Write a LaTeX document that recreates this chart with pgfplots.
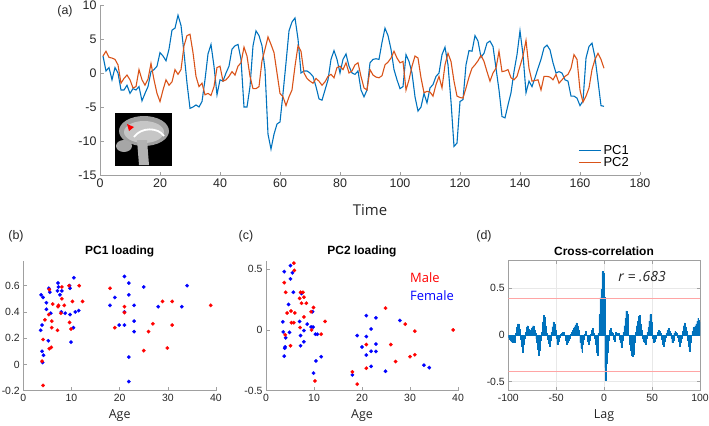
\documentclass[border=0pt]{standalone}
\usepackage{fontspec}
\setmainfont{Liberation Sans}
\newfontfamily\lblfont{Open Sans}
\usepackage{pgfplots}
\usepackage{pgfplotstable}
\pgfplotsset{compat=1.18}
\definecolor{mblue}{RGB}{0,114,189}
\definecolor{morange}{RGB}{217,83,25}
\definecolor{axgray}{RGB}{160,160,160}
\definecolor{tickcol}{RGB}{38,38,38}
\definecolor{barfill}{RGB}{95,165,222}
\definecolor{lightred}{RGB}{255,165,165}

\pgfplotstableread{
t pc1 pc2
1 2.5 2.5
2 0.3 3.2
3 0.8 2.3
4 -1.0 2.2
5 0.8 2.0
6 0.0 1.2
7 -2.5 -1.5
8 -2.5 -0.8
9 -1.8 -0.3
10 -3.0 -1.0
11 -2.3 -2.2
12 -2.5 -2.0
13 -2.0 0.5
14 -4.1 -1.0
15 -3.0 -1.8
16 -2.0 -0.9
17 0.2 1.4
18 0.5 -1.0
19 1.0 -3.0
20 3.0 -4.2
21 2.5 -2.5
22 1.8 -1.0
23 3.5 -1.8
24 6.3 -1.3
25 6.6 0.5
26 8.5 -0.2
27 7.0 0.5
28 3.0 4.0
29 -1.5 5.5
30 -5.2 5.7
31 -5.0 3.0
32 -4.7 -0.5
33 -5.0 -2.0
34 -4.2 -1.5
35 -1.0 -3.2
36 2.8 -3.0
37 4.2 -3.3
38 1.0 -2.0
39 -3.2 0.8
40 -1.0 1.0
41 -1.2 -1.2
42 0.0 -1.0
43 1.0 -0.5
44 3.5 0.2
45 4.0 -0.3
46 4.2 1.0
47 2.0 1.5
48 -5.0 3.8
49 -5.0 2.5
50 -2.0 -0.5
51 4.0 -2.3
52 6.2 -2.3
53 5.5 -2.0
54 4.0 1.8
55 0.5 3.5
56 -9.0 5.3
57 -11.2 4.2
58 -9.0 3.0
59 -7.5 0.0
60 -7.2 -3.0
61 -3.0 -3.5
62 1.5 -4.8
63 6.2 -3.5
64 7.5 -2.5
65 8.1 1.0
66 5.0 4.0
67 0.0 3.2
68 0.3 0.0
69 0.3 -0.8
70 0.0 -1.2
71 -0.5 -1.5
72 -2.0 -0.8
73 -3.8 -1.2
74 -4.0 -1.8
75 -2.5 -1.3
76 -1.0 -0.5
77 2.0 -0.2
78 3.3 -0.7
79 2.0 0.8
80 0.0 1.0
81 2.0 0.5
82 2.8 1.5
83 1.0 0.0
84 0.0 0.3
85 -0.2 1.2
86 0.3 1.5
87 -2.5 -0.5
88 -3.5 -2.2
89 -2.5 -2.5
90 1.5 0.5
91 2.0 -0.3
92 2.1 -0.6
93 2.0 -0.7
94 4.5 -0.4
95 6.6 1.2
96 5.5 1.6
97 3.5 2.2
98 0.5 3.2
99 -1.0 2.2
100 -2.3 1.5
101 -2.0 1.7
102 2.7 -2.5
103 1.7 -1.0
104 0.0 1.0
105 -3.5 2.5
106 -5.6 2.2
107 -5.0 -0.7
108 -3.0 -2.9
109 -4.4 -2.7
110 -2.2 -2.8
111 -1.7 -3.4
112 -0.5 -1.7
113 0.0 -0.5
114 2.7 -2.2
115 3.8 1.2
116 1.2 2.9
117 -4.2 1.7
118 -10.8 -1.2
119 -10.3 -3.4
120 -4.2 -3.6
121 -3.9 -3.7
122 1.2 -2.2
123 3.3 -0.6
124 3.2 0.7
125 5.5 1.2
126 4.7 1.8
127 2.3 2.6
128 2.9 1.7
129 4.4 0.2
130 4.7 -1.2
131 3.9 0.0
132 0.7 0.7
133 -2.5 3.2
134 -6.4 0.2
135 -6.6 0.3
136 -4.7 0.5
137 -2.9 -0.7
138 0.2 -1.0
139 2.7 -0.5
140 6.2 1.0
141 2.7 2.5
142 -2.9 4.8
143 -1.2 0.7
144 -2.0 -1.2
145 -0.7 -1.1
146 0.7 -1.0
147 2.0 -2.5
148 3.7 -0.5
149 4.1 -0.5
150 3.4 -0.6
151 1.5 -1.0
152 0.0 -0.2
153 0.2 -1.5
154 0.0 -1.0
155 -1.0 -0.5
156 -1.2 -0.2
157 -3.4 0.7
158 -3.4 2.7
159 -3.7 2.0
160 -4.8 -2.5
161 -4.1 -4.3
162 2.2 -3.4
163 3.9 -2.2
164 4.4 0.5
165 2.3 2.0
166 -1.2 2.9
167 -4.8 2.0
168 -4.9 0.7
}\tseries

\pgfplotstableread{
lag r
-100 -0.02
-99 -0.04
-98 -0.05
-97 -0.07
-96 -0.08
-95 -0.06
-94 -0.03
-93 -0.08
-92 0.02
-91 0.08
-90 0.12
-89 0.12
-88 0.06
-87 -0.04
-86 -0.12
-85 -0.18
-84 -0.10
-83 -0.03
-82 0.03
-81 0.08
-80 0.10
-79 0.06
-78 0.04
-77 0.05
-76 0.07
-75 0.09
-74 0.10
-73 0.05
-72 0.02
-71 -0.04
-70 -0.08
-69 -0.15
-68 -0.22
-67 -0.16
-66 -0.05
-65 0.03
-64 0.14
-63 0.21
-62 0.19
-61 0.10
-60 0.02
-59 -0.04
-58 -0.09
-57 -0.12
-56 -0.05
-55 0.03
-54 0.09
-53 0.14
-52 0.12
-51 0.05
-50 -0.03
-49 -0.10
-48 -0.07
-47 -0.03
-46 -0.02
-45 0.01
-44 0.02
-43 0.03
-42 0.03
-41 0.00
-40 -0.05
-39 -0.10
-38 -0.08
-37 -0.05
-36 -0.03
-35 0.01
-34 0.03
-33 0.05
-32 0.07
-31 0.09
-30 0.11
-29 0.13
-28 0.10
-27 0.05
-26 0.00
-25 -0.08
-24 -0.14
-23 -0.18
-22 -0.10
-21 -0.04
-20 0.01
-19 0.04
-18 0.00
-17 -0.06
-16 -0.10
-15 -0.05
-14 0.01
-13 0.05
-12 0.07
-11 0.02
-10 -0.03
-9 -0.10
-8 -0.18
-7 -0.21
-6 0.02
-5 0.22
-4 0.40
-3 0.49
-2 0.68
-1 0.66
0 0.41
1 -0.35
2 -0.48
3 -0.30
4 -0.18
5 -0.05
6 0.05
7 0.07
8 0.03
9 0.02
10 -0.04
11 -0.06
12 0.03
13 0.02
14 0.00
15 0.02
16 -0.04
17 -0.08
18 -0.13
19 -0.05
20 0.03
21 0.10
22 0.18
23 0.26
24 0.22
25 0.10
26 0.00
27 -0.10
28 -0.16
29 -0.21
30 -0.23
31 -0.20
32 -0.08
33 0.03
34 0.10
35 0.15
36 0.20
37 0.21
38 0.12
39 0.05
40 -0.03
41 -0.06
42 -0.08
43 -0.10
44 -0.03
45 0.03
46 0.08
47 0.15
48 0.22
49 0.14
50 0.05
51 -0.03
52 -0.08
53 -0.06
54 -0.03
55 0.00
56 0.03
57 0.05
58 0.04
59 0.02
60 -0.04
61 -0.10
62 -0.12
63 -0.06
64 -0.02
65 0.02
66 0.05
67 0.07
68 0.04
69 0.02
70 -0.03
71 -0.08
72 -0.05
73 0.02
74 0.04
75 0.03
76 0.02
77 -0.02
78 -0.06
79 -0.12
80 -0.08
81 -0.03
82 0.04
83 0.10
84 0.13
85 0.09
86 0.04
87 -0.05
88 -0.12
89 -0.17
90 -0.08
91 0.00
92 0.04
93 0.08
94 0.07
95 0.10
96 0.12
97 0.15
98 0.18
99 0.16
100 0.14
}\xcorr

\pgfplotsset{
  mstyle/.style={
    scale only axis,
    axis x line=bottom, axis y line=left,
    axis line style={-, draw=axgray, line width=0.6pt},
    tick style={draw=axgray, line width=0.6pt},
    major tick length=3.5bp,
    tick align=inside,
    /pgf/number format/assume math mode=true,
    ticklabel style={text=tickcol},
  },
  smallticks/.style={
    ticklabel style={font=\fontsize{10.5}{12}\selectfont},
  },
  dotblue/.style={only marks, mark=*, mark size=1.8pt,
    mark options={solid, fill=blue, draw=blue, line width=0.2pt}},
  dotred/.style={only marks, mark=*, mark size=1.8pt,
    mark options={solid, fill=red, draw=red, line width=0.2pt}},
}

\begin{document}
\begin{tikzpicture}
\useasboundingbox (0,0) rectangle (709bp,-426bp);

% ---------------- panel (a)
\begin{axis}[mstyle,
  at={(100bp,-175bp)}, anchor=south west,
  width=540bp, height=170bp,
  xmin=0, xmax=180, ymin=-15, ymax=10,
  xtick={0,20,...,180}, ytick={-15,-10,...,10},
  ticklabel style={font=\fontsize{12.5}{14}\selectfont},
  legend style={draw=none, fill=none, at={(0.985,0.025)}, anchor=south east,
    font=\fontsize{13}{15}\selectfont, row sep=-3pt, inner sep=1pt},
  legend cell align=left,
  legend image code/.code={\draw[#1] (0bp,0bp) -- (22bp,0bp);},
]
\addplot[mblue, line width=1.1pt] table[x=t, y=pc1] {\tseries};
\addlegendentry{PC1}
\addplot[morange, line width=1.1pt] table[x=t, y=pc2] {\tseries};
\addlegendentry{PC2}
\end{axis}

% brain inset (decorative)
\fill[black] (115bp,-113bp) rectangle (172bp,-166bp);
\fill[gray!75] (144bp,-131bp) ellipse [x radius=25bp, y radius=15bp];
\fill[gray!45] (144bp,-132bp) ellipse [x radius=20bp, y radius=11bp];
\fill[gray!70] (124bp,-146bp) ellipse [x radius=8bp, y radius=6bp];
\fill[gray!60] (137bp,-140bp) -- (147bp,-140bp) -- (149bp,-165bp) -- (139bp,-165bp) -- cycle;
\draw[white, line width=1.8bp] (134bp,-137bp) .. controls (141bp,-127bp) and (158bp,-127bp) .. (164bp,-136bp);
\fill[red] (127bp,-124bp) -- (134bp,-127bp) -- (129bp,-131bp) -- cycle;

\node[font=\fontsize{12.5}{14}\selectfont, text=tickcol] at (65bp,-11bp) {(a)};
\node[font=\lblfont\fontsize{15}{17}\selectfont, text=tickcol] at (370bp,-210bp) {Time};

% ---------------- panel (b)
\begin{axis}[mstyle, smallticks,
  at={(23.3bp,-390.7bp)}, anchor=south west,
  width=192.7bp, height=130bp,
  xmin=0, xmax=40, ymin=-0.2, ymax=0.79,
  xtick={0,10,...,40}, ytick={-0.2,0,0.2,0.4,0.6},
  yticklabel style={/pgf/number format/fixed},
]
\addplot[dotblue] coordinates {
(3.7,0.53)(4.1,0.51)(5.3,0.58)(5.5,0.55)(4.8,0.47)(4.8,0.42)(3.6,0.26)(3.9,0.30)(3.9,0.10)(4.0,0.015)(4.2,0.07)(5.2,0.18)(5.7,0.39)(7.2,0.62)(7.3,0.59)(7.1,0.56)(7.6,0.53)(8.0,0.56)(7.9,0.40)(8.7,0.39)(9.6,0.60)(9.7,0.58)(9.7,0.38)(10.5,0.66)(10.4,0.28)(9.9,0.17)(10.8,0.40)(11.5,0.41)(18,0.45)(19,0.51)(19.9,0.30)(21,0.67)(21,0.40)(21,0.30)(21.9,0.62)(21.9,0.53)(21.9,0.056)(21.9,-0.13)(23,0.45)(23,0.33)(23,0.25)(25,0.59)(28,0.44)(32.9,0.44)(34,0.60)};
\addplot[dotred] coordinates {
(3.9,0.025)(4.1,-0.16)(4.1,0.19)(4.5,0.34)(5.4,0.57)(5.3,0.38)(5.4,0.12)(5.8,0.13)(5.9,0.33)(5.9,0.28)(6.1,0.46)(7.2,0.44)(7.3,0.45)(7.1,0.26)(7.8,0.39)(8.0,0.59)(8.0,0.50)(8.5,0.45)(9.6,0.32)(9.9,0.27)(10.2,0.48)(9.5,0.60)(11.6,0.60)(12.3,0.48)(18,0.58)(19,0.28)(21,0.44)(21,0.395)(25,0.105)(26,0.25)(26.9,0.31)(28.9,0.48)(29.9,0.125)(30.9,0.48)(30.9,0.30)(38.9,0.45)};
\end{axis}
\node[font=\fontsize{12.5}{14}\selectfont, text=tickcol] at (16bp,-236bp) {(b)};
\node[font=\bfseries\fontsize{12}{14}\selectfont, text=black] at (119.7bp,-251.7bp) {PC1 loading};
\node[font=\lblfont\fontsize{12.5}{14}\selectfont, text=tickcol] at (119.7bp,-416bp) {Age};

% ---------------- panel (c)
\begin{axis}[mstyle, smallticks,
  at={(266bp,-390.7bp)}, anchor=south west,
  width=192bp, height=130bp,
  xmin=0, xmax=40, ymin=-0.5, ymax=0.57,
  xtick={0,10,...,40}, ytick={-0.5,0,0.5},
  yticklabel style={/pgf/number format/fixed},
]
\addplot[dotblue] coordinates {
(3.8,0.48)(3.5,0.067)(3.6,-0.016)(4.1,-0.065)(4.0,-0.14)(3.9,-0.15)(3.8,-0.215)(4.7,0.21)(4.9,-0.02)(5.1,0.53)(5.1,0.42)(5.5,0.47)(5.7,0.31)(7.0,0.07)(7.2,-0.046)(7.2,-0.13)(7.4,0.30)(7.9,-0.005)(7.9,-0.097)(8.6,0.048)(9.4,0.024)(9.7,0.15)(9.8,0.024)(9.9,-0.355)(10.3,-0.035)(10.7,-0.035)(10.4,-0.255)(11.5,-0.22)(18,-0.37)(19,-0.046)(20,-0.14)(20.9,0.118)(20.9,-0.054)(20.9,-0.207)(21.9,0.008)(21.9,-0.175)(21.9,-0.30)(22.9,0.10)(22.9,-0.116)(22.9,-0.177)(24.9,-0.34)(27.9,0.078)(32.9,-0.29)(34,-0.31)};
\addplot[dotred] coordinates {
(3.8,0.39)(4.1,0.31)(4.4,0.14)(4.0,-0.04)(5.2,0.156)(5.1,-0.13)(5.3,0.06)(5.8,0.06)(5.8,0.55)(5.9,0.49)(6.0,0.14)(7.0,0.26)(7.1,0.02)(7.2,0.31)(7.4,0.22)(7.7,0.31)(7.9,0.27)(8.4,0.22)(7.9,0.107)(9.4,0.15)(9.5,0.0)(9.9,0.185)(10.2,-0.42)(11.5,-0.035)(12.3,0.07)(18,-0.345)(19,-0.446)(20.9,-0.12)(20.9,-0.315)(24.9,0.18)(26,-0.12)(27,-0.26)(29,0.048)(31,-0.01)(30,-0.22)(31,-0.204)(39,0.0)};
\node[anchor=west, font=\lblfont\fontsize{13}{15}\selectfont, text=red] at (axis cs:29.3,0.43) {Male};
\node[anchor=west, font=\lblfont\fontsize{13}{15}\selectfont, text=blue] at (axis cs:29.3,0.285) {Female};
\end{axis}
\node[font=\fontsize{12.5}{14}\selectfont, text=tickcol] at (246bp,-236bp) {(c)};
\node[font=\bfseries\fontsize{12}{14}\selectfont, text=black] at (362bp,-251.7bp) {PC2 loading};
\node[font=\lblfont\fontsize{12.5}{14}\selectfont, text=tickcol] at (362bp,-416bp) {Age};

% ---------------- panel (d)
\begin{axis}[scale only axis,
  at={(508.3bp,-390.7bp)}, anchor=south west,
  width=191.7bp, height=130bp,
  xmin=-100, xmax=100, ymin=-0.596, ymax=0.796,
  xtick={-100,-50,...,100}, ytick={-0.5,0,0.5},
  axis line style={draw=axgray, line width=0.6pt},
  tick style={draw=axgray, line width=0.6pt},
  major tick length=3.5bp, tick align=inside,
  grid=major, grid style={draw=gray!18, line width=0.5pt},
  /pgf/number format/assume math mode=true,
  ticklabel style={text=tickcol, font=\fontsize{10.5}{12}\selectfont},
  yticklabel style={/pgf/number format/fixed},
]
\addplot[ybar, bar width=1, fill=barfill, draw=mblue, line width=0.2pt] table[x=lag, y=r] {\xcorr};
\addplot[lightred, line width=0.8pt] coordinates {(-100,0.39) (100,0.39)};
\addplot[lightred, line width=0.8pt] coordinates {(-100,-0.39) (100,-0.39)};
\node[font=\lblfont\itshape\fontsize{14}{16}\selectfont, text=tickcol] at (axis cs:39.6,0.626) {r = .683};
\end{axis}
\node[font=\fontsize{12.5}{14}\selectfont, text=tickcol] at (484bp,-236bp) {(d)};
\node[font=\bfseries\fontsize{12}{14}\selectfont, text=black] at (604bp,-251.7bp) {Cross-correlation};
\node[font=\lblfont\fontsize{12.5}{14}\selectfont, text=tickcol] at (604bp,-416bp) {Lag};
\end{tikzpicture}
\end{document}
